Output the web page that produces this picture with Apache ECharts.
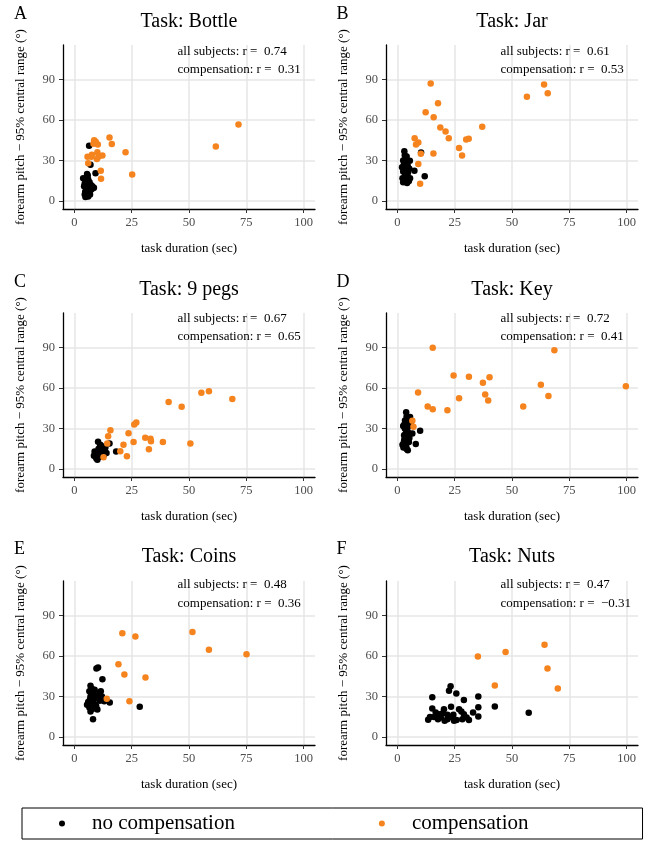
<!DOCTYPE html>
<html>
<head>
<meta charset="utf-8">
<script src="https://cdn.jsdelivr.net/npm/echarts@6/dist/echarts.min.js"></script>
<style>
  html, body { margin: 0; padding: 0; background: #fff; }
  #chart { width: 646px; height: 841px; }
</style>
</head>
<body>
<div id="chart"></div>
<script>
// axis ticks
const xTicks = [0, 25, 50, 75, 100];
const yTicks = [0, 30, 60, 90];

// panel labels
const panelLetters = ['A', 'B', 'C', 'D', 'E', 'F'];
const taskNames = ['Bottle', 'Jar', '9 pegs', 'Key', 'Coins', 'Nuts'];
const rAll = ['0.74', '0.61', '0.67', '0.72', '0.48', '0.47'];
const rComp = ['0.31', '0.53', '0.65', '0.41', '0.36', '\u22120.31'];

// [task duration (sec), forearm pitch range (deg)]
const bottleNoComp = [[6.4,41],[7,27],[9.2,20.7],[5.5,20],[5.8,19],[3.8,17],[4.5,13],[5,11],[5.2,9],[4.7,7],
  [5,5],[5.5,4],[6,3.5],[4.8,3],[6.5,6],[7,8],[6,10],[7.5,9],[8.5,10],[7.8,11],[5.5,14],[6.2,12],[4.2,11],
  [5.8,7],[6.8,5],[7.2,12],[5,15],[6,16],[8,9.5],[4.5,5],[5.3,6.5],[6.6,14]];
const bottleComp = [[71.6,56.7],[61.7,40.4],[25.2,19.7],[22.3,36.2],[15.3,47.1],[16.3,42.2],[11.5,22.4],
  [11.6,16.5],[12.2,33.8],[10.5,32.8],[9.8,31.1],[10,36.2],[10.2,41.9],[8.3,42.4],[8.6,45.1],[7.4,32.8],
  [6,28.1],[5.7,32.8],[7.6,34.3],[9.3,44]];

const jarNoComp = [[11.9,18.5],[7.4,22.4],[10.3,36],[5.4,29.8],[3,37],[3.2,34],[3.5,32],[2.5,30],[4,28],
  [2,25],[3,24],[4.5,26],[2.5,22],[3.5,20],[4,18],[3,16],[2.5,14],[4.2,13.5],[5,15],[5.5,17],[3.8,23],
  [2.8,27],[4.6,21],[3.3,19],[2.2,17],[5.2,24],[4,33],[3.6,14.5]];
const jarComp = [[14.5,87],[64,86.3],[65.6,79.9],[56.5,77.2],[17.7,72.5],[12.3,65.8],[15.8,62.1],[37,55],
  [18.7,54.5],[21,51.5],[22.4,46.6],[7.5,46.6],[9.1,43.4],[8.1,41.9],[31.1,46.1],[30,45.6],[26.9,39.4],
  [28.2,33.8],[15.7,35.3],[10.2,35],[9.1,27.4],[9.9,12.8]];

const pegsNoComp = [[15.3,19],[18.2,13.1],[10.3,20.2],[9,12],[8.5,10],[9.5,8],[10,7],[11,9],[12,10],[13,11],
  [12.5,14],[11.5,13],[10.5,15],[9.8,11],[8.8,13],[13.5,16],[12,17],[11,16],[10,10],[14,12],[11.8,11.5],
  [9.2,9.5],[12.8,12.8],[10.8,12],[13,15],[11.3,18]];
const pegsComp = [[68.9,51.8],[58.7,57.7],[55.4,56.5],[41.1,49.6],[46.8,46.1],[27,34.5],[26.1,33],[15.7,28.8],
  [14.7,24.4],[23.6,26.6],[30.9,23.2],[33.2,22.4],[33.4,20.7],[38.6,20],[25.8,20],[21.4,18],[50.6,19],
  [32.5,14.8],[20,13.3],[22.9,9.6],[12.7,8.9],[14.3,19]];

const keyNoComp = [[9.9,28.4],[8,18.7],[6.5,26.4],[5.5,38.5],[3.8,42],[4,39],[3.5,35],[3,33],[2.5,32],
  [4.5,31],[3.2,30],[4,28],[3.5,26],[4.2,24],[3,22],[2.8,20],[2.2,18],[2.6,16],[4,15],[4.5,14],[3.8,17],
  [5,20],[5.2,23],[4.8,27],[3.3,36],[5.8,33],[4.4,37],[2.9,25]];
const keyComp = [[15.4,89.8],[68.5,88],[24.5,69.3],[31.2,68.3],[40.2,68],[37.3,63.9],[62.6,62.4],[99.7,61.4],
  [9,56.7],[38.3,55.2],[65.9,54.2],[26.9,52.5],[39.6,50.8],[13.2,46.4],[54.9,46.4],[15.4,44.4],[21.8,43.6],
  [6.5,35.8],[7,31.3]];

const coinsNoComp = [[9.6,50.7],[10.3,51.5],[12.2,42.9],[28.5,22.4],[8.1,13.3],[15.4,25.6],[13,26.5],[7,38],
  [7.5,36],[6.5,34],[8,33],[9,31],[7,30],[8.5,28],[10,29],[11,33],[11.5,34],[12,30],[6,26],[7.5,25],[9,24],
  [6.5,22],[8,21],[10,20.5],[7,19],[9.5,23],[5.5,24],[8.8,35],[11,27],[6.8,28]];
const coinsComp = [[20.9,76.9],[51.5,77.7],[26.6,74.5],[58.7,64.6],[75.1,61.4],[19.2,54],[21.8,46.4],
  [31,44.1],[14.1,28.4],[24,26.6]];

const nutsNoComp = [[57.3,18],[42.5,22.7],[35.3,30.1],[35.3,22.2],[35.3,15.3],[33,18.2],[29,27.4],[23.2,37.7],
  [22.5,34.3],[25.7,32.3],[23.4,22.4],[15.2,29.6],[15.2,21.2],[13.4,12.8],[14.2,15],[20.3,20.7],[16.7,18.2],
  [18.1,17],[18.9,14.5],[20.6,12.1],[21.8,13.3],[23.2,15],[24.7,12.1],[25.8,12.6],[26.9,20.7],[27.9,19],
  [29,17],[30.2,14.5],[31.2,12.6],[28.3,13.3],[17.7,13.3],[19.6,17.5],[21.8,16.5],[24.4,16.5],[16,15]];
const nutsComp = [[35.1,59.7],[47.2,62.9],[64.2,68.3],[65.5,50.8],[70,36],[42.5,38.2]];

const noCompData = [bottleNoComp, jarNoComp, pegsNoComp, keyNoComp, coinsNoComp, nutsNoComp];
const compData = [bottleComp, jarComp, pegsComp, keyComp, coinsComp, nutsComp];

window.onload = function () {
    const chart = echarts.init(document.getElementById('chart'));

    const serif = 'Liberation Serif';
    const orange = '#F5841F';

    // panel layout (px)
    const colLeft = [63, 386];
    const rowTop = [45, 313, 581];
    const gridW = 252, gridH = 164;
    const titleY = [21.5, 289.5, 556.5];
    const letterY = [14, 282.5, 549];
    const annoY = [[51.7, 69.3], [318.3, 336.7], [584.3, 603.3]];

    let grids = [], xAxes = [], yAxes = [], series = [], titles = [];

    for (let i = 0; i < 6; i++) {
        let col = i % 2, row = Math.floor(i / 2);
        let left = colLeft[col];

        grids.push({ left: left, top: rowTop[row], width: gridW, height: gridH });

        xAxes.push({
            gridIndex: i, type: 'value', min: -5, max: 105,
            name: 'task duration (sec)', nameLocation: 'middle', nameGap: 33,
            nameTextStyle: { fontFamily: serif, fontSize: 13, color: '#000' },
            axisLine: { show: true, onZero: false, lineStyle: { color: '#000', width: 1.3 } },
            axisTick: { show: true, customValues: xTicks, length: 4, lineStyle: { color: '#333' } },
            axisLabel: { customValues: xTicks, margin: 7, color: '#4d4d4d', fontFamily: serif, fontSize: 12.5 },
            splitLine: { show: true, lineStyle: { color: '#e6e6e6', width: 1.5 } }
        });

        yAxes.push({
            gridIndex: i, type: 'value', min: -5.8, max: 115.5,
            name: 'forearm pitch \u2212 95% central range (\u00b0)', nameLocation: 'middle', nameGap: 36,
            nameTextStyle: { fontFamily: serif, fontSize: 13, color: '#000' },
            axisLine: { show: true, onZero: false, lineStyle: { color: '#000', width: 1.3 } },
            axisTick: { show: true, customValues: yTicks, length: 4, lineStyle: { color: '#333' } },
            axisLabel: { customValues: yTicks, margin: 8, color: '#4d4d4d', fontFamily: serif, fontSize: 12.5 },
            splitLine: { show: true, lineStyle: { color: '#e6e6e6', width: 1.5 } }
        });

        series.push({
            name: 'no compensation', type: 'scatter', xAxisIndex: i, yAxisIndex: i,
            symbolSize: 6.5, itemStyle: { color: '#000', opacity: 1 },
            data: noCompData[i]
        });
        series.push({
            name: 'compensation', type: 'scatter', xAxisIndex: i, yAxisIndex: i,
            symbolSize: 6.5, itemStyle: { color: orange, opacity: 1 },
            data: compData[i]
        });

        titles.push({
            text: 'Task: ' + taskNames[i], left: left + 126, top: titleY[row], padding: 0,
            textAlign: 'center', textVerticalAlign: 'middle',
            textStyle: { fontFamily: serif, fontSize: 20, fontWeight: 'normal', color: '#000' }
        });
        titles.push({
            text: panelLetters[i], left: col === 0 ? 14 : 336.5, top: letterY[row], padding: 0,
            textAlign: 'left', textVerticalAlign: 'middle',
            textStyle: { fontFamily: serif, fontSize: 18, fontWeight: 'normal', color: '#000' }
        });
        titles.push({
            text: 'all subjects: r =  ' + rAll[i], left: left + 114.5, top: annoY[row][0], padding: 0,
            textAlign: 'left', textVerticalAlign: 'middle',
            textStyle: { fontFamily: serif, fontSize: 13, fontWeight: 'normal', color: '#000' }
        });
        titles.push({
            text: 'compensation: r =  ' + rComp[i], left: left + 114.5, top: annoY[row][1], padding: 0,
            textAlign: 'left', textVerticalAlign: 'middle',
            textStyle: { fontFamily: serif, fontSize: 13, fontWeight: 'normal', color: '#000' }
        });
    }

    let option = {
        backgroundColor: '#fff',
        animation: false,
        title: titles,
        grid: grids,
        xAxis: xAxes,
        yAxis: yAxes,
        legend: {
            data: ['no compensation', 'compensation'],
            left: 22, top: 808,
            padding: [5, 114, 5, 37],
            itemGap: 144,
            icon: 'circle', itemWidth: 6, itemHeight: 6,
            borderColor: '#000', borderWidth: 1,
            textStyle: { fontFamily: serif, fontSize: 21, color: '#000', padding: [0, 0, 0, 22] }
        },
        series: series
    };

    chart.setOption(option);
};
</script>
</body>
</html>
